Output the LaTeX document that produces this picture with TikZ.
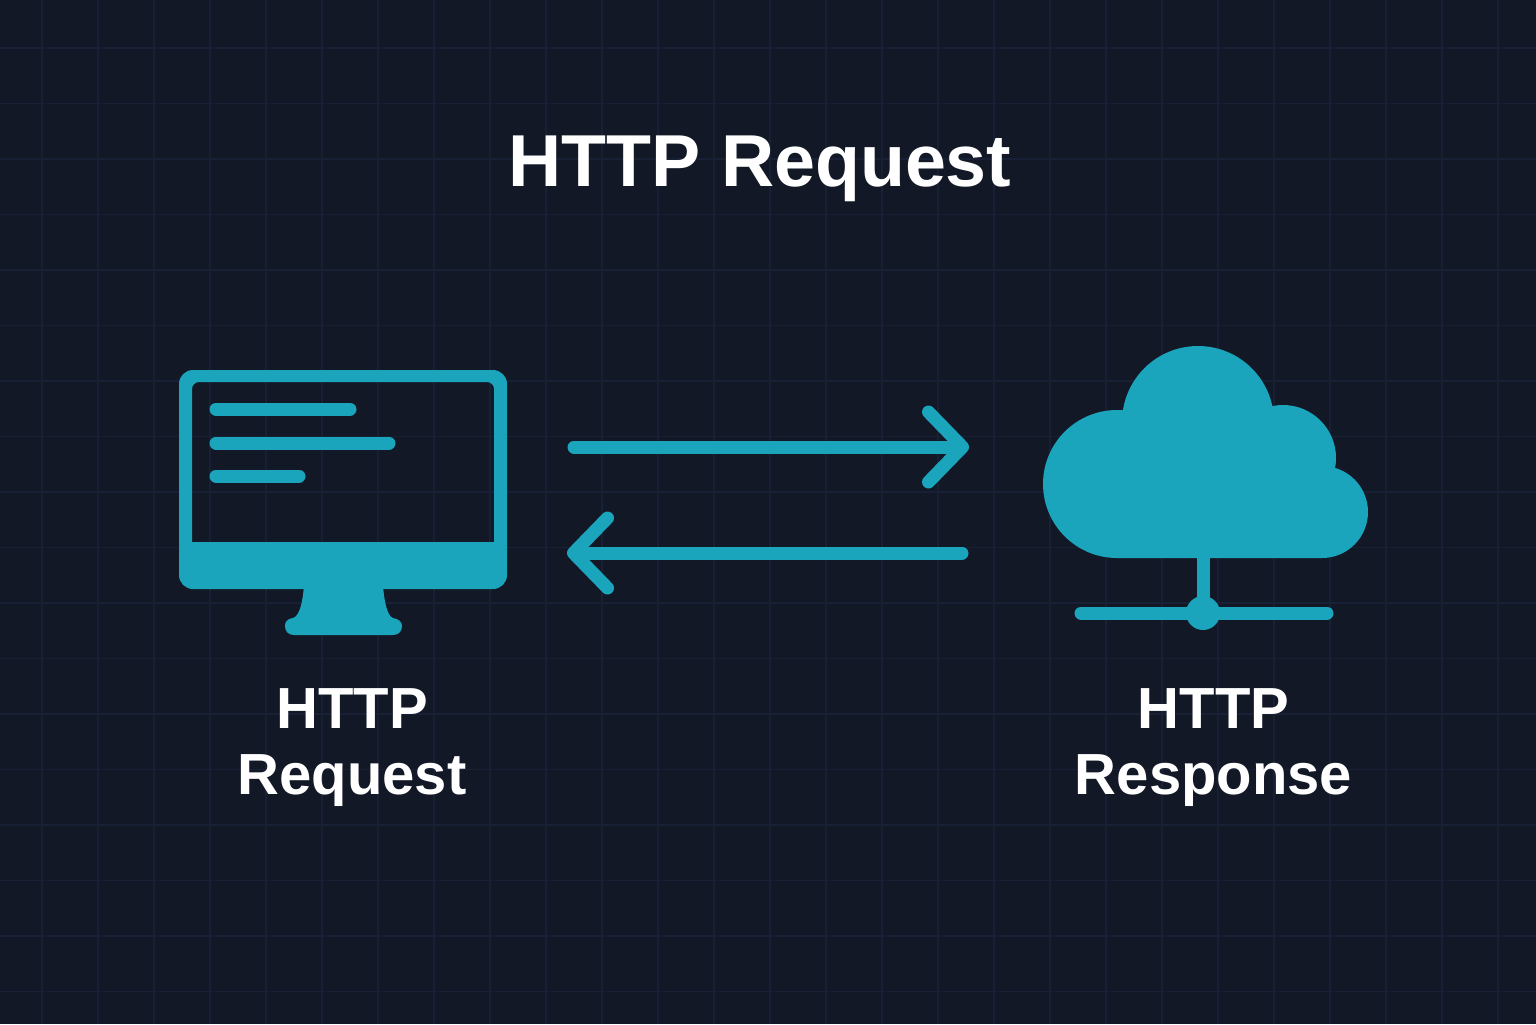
\documentclass[tikz,border=0pt]{standalone}
\usepackage{fontspec}
\setmainfont{Liberation Sans}
\usetikzlibrary{positioning,arrows.meta}
\definecolor{page}{HTML}{121826}
\definecolor{gridline}{HTML}{172035}
\definecolor{icon}{HTML}{1AA5BC}
\begin{document}
\begin{tikzpicture}[
    x=0.5pt, y=-0.5pt,
    every node/.style={text=white, font=\bfseries},
    heading/.style={font=\fontsize{36.8}{44}\selectfont\bfseries, inner sep=0pt},
    caption/.style={font=\fontsize{29}{33}\selectfont\bfseries, align=center, inner sep=0pt},
    iconbox/.style={inner sep=0pt, minimum width=#1},
    iconfill/.style={fill=icon},
    textbar/.style={draw=icon, line width=6.5pt, line cap=round},
    link/.style={-{Straight Barb[length=17pt, width=35pt, round, line width=6.5pt]}, draw=icon,
                 line width=6.5pt, line cap=round},
  ]

  % page and grid
  \useasboundingbox (0,0) rectangle (1536,1024);
  \fill[page] (0,0) rectangle (1536,1024);
  \foreach \gx in {0,...,26}
    \draw[gridline, line width=0.6pt] (42+56*\gx,0) -- (42+56*\gx,1024);
  \foreach \gy in {0,...,17}
    \draw[gridline, line width=0.6pt] (0,48+55.5*\gy) -- (1536,48+55.5*\gy);

  % the title
  \node[heading] (title) at (760,169) {HTTP Request};

  % the monitor
  \node[iconbox=164pt, minimum height=109.5pt] (monitor) at (343,479.5) {};
  \fill[iconfill, even odd rule, rounded corners=7pt]
       (179,370) -- (507,370) -- (507,589) -- (179,589) -- cycle
       [rounded corners=3.5pt] (192,542) [sharp corners] -- (494,542)
       [rounded corners=3.5pt] -- (494,382) -- (192,382) [sharp corners] -- cycle;
  \fill[iconfill] (304,585) .. controls (303,600) and (300,616) .. (293,618)
       .. controls (286,619) and (285,623) .. (285,626)
       .. controls (285,632) and (289,635) .. (294,635) -- (393,635)
       .. controls (399,635) and (402,631) .. (402,626)
       .. controls (402,622) and (399,619) .. (393,618)
       .. controls (387,616) and (384,600) .. (383,585) -- cycle;
  \draw[textbar] (216,409) -- (350,409);
  \draw[textbar] (216,443) -- (389,443);
  \draw[textbar] (216,476) -- (299,476);

  % the cloud
  \node[iconbox=162.5pt, minimum height=106pt] (cloud) at (1205.5,452) {};
  \fill[iconfill] (1117,484) circle (74);
  \fill[iconfill] (1198,422) circle (76);
  \fill[iconfill] (1283,458) circle (53);
  \fill[iconfill] (1322,512) circle (46);
  \fill[iconfill] (1117,558) -- (1322,558) -- (1322,512) -- (1283,458)
       -- (1198,422) -- (1117,484) -- cycle;
  \fill[iconfill] (1196.5,555) rectangle (1209.5,602);
  \fill[iconfill] (1203,613) circle (17);
  \draw[textbar] (1081,613) -- (1327,613);

  % request and response
  \coordinate (reqout) at (574,447);
  \coordinate (reqin) at (969,447);
  \coordinate (respout) at (962,553);
  \coordinate (respin) at (567,553);
  \draw[link] (reqout) -- (reqin);
  \draw[link] (respout) -- (respin);

  % captions
  \node[caption, below=49.5pt of monitor, xshift=4.5pt, anchor=north] (reqlabel) {HTTP\\Request};
  \node[caption, below=65pt of cloud, xshift=4pt, anchor=north] (resplabel) {HTTP\\Response};
\end{tikzpicture}
\end{document}
